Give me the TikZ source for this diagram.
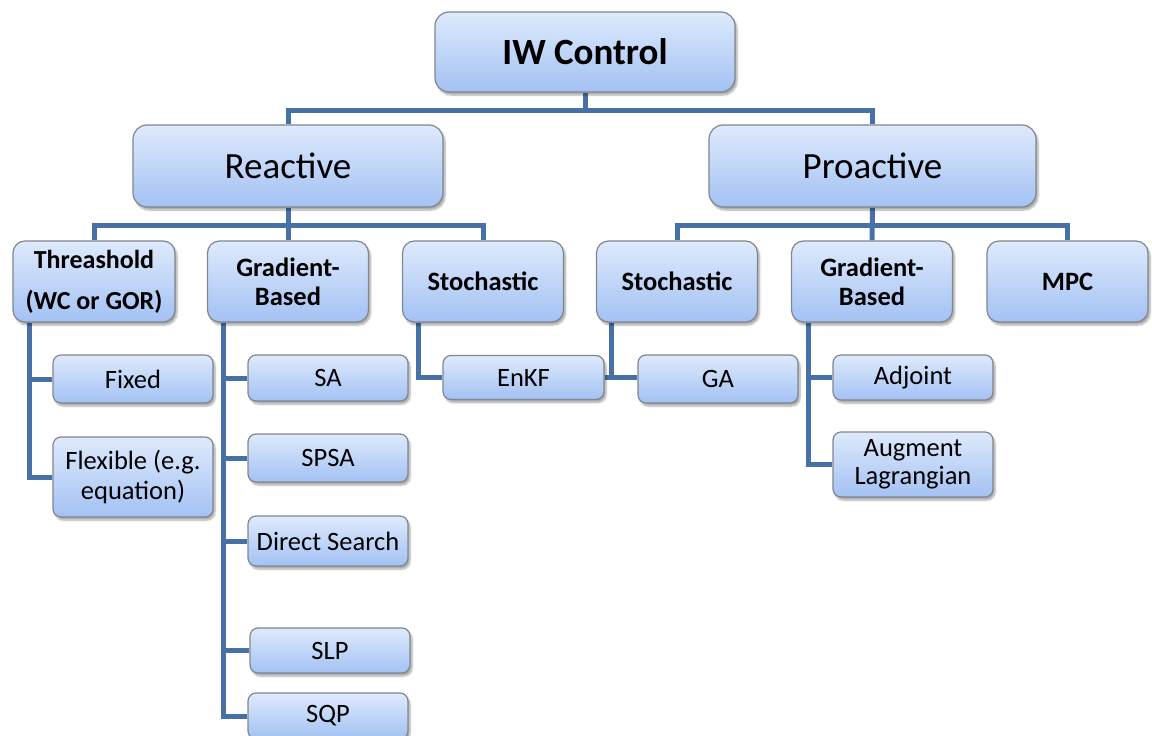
\documentclass[tikz,border=0pt]{standalone}
\usepackage{fontspec}
\setmainfont{Carlito}
\usetikzlibrary{calc,shadows.blur}
\pgfdeclarelayer{bg}
\pgfsetlayers{bg,main}
\definecolor{conncol}{RGB}{70,112,166}
\definecolor{boxtop}{RGB}{222,234,252}
\definecolor{boxbot}{RGB}{163,193,243}
\definecolor{boxedge}{RGB}{128,134,142}
\tikzset{
  box/.style={draw=boxedge, line width=1.2pt, rounded corners=#1, top color=boxtop, bottom color=boxbot,
    align=center, inner sep=2pt,
    blur shadow={shadow xshift=2pt, shadow yshift=-3pt, shadow blur steps=6, shadow opacity=35}},
  lvlA/.style={box=14pt, font=\fontsize{37}{40}\selectfont},
  lvlAb/.style={box=14pt, font=\bfseries\fontsize{37}{40}\selectfont},
  lvlB/.style={box=12pt, minimum width=161pt, minimum height=81pt, font=\bfseries\fontsize{26.5}{29}\selectfont},
  lvlC/.style={box=8pt, minimum width=160pt, font=\fontsize{26.5}{29}\selectfont},
  conn/.style={draw=conncol, line width=5pt, line join=miter}
}
\begin{document}
\begin{tikzpicture}[x=1pt,y=-1pt]
\useasboundingbox (0,0) rectangle (1152,736);

% nodes
\node[lvlAb, minimum width=300pt, minimum height=80pt] (root) at (585,52) {IW Control};
\node[lvlA, minimum width=310pt, minimum height=82pt] (react) at (288,166) {Reactive};
\node[lvlA, minimum width=327pt, minimum height=82pt] (proact) at (872.5,166) {Proactive};

\node[lvlB, minimum width=162pt, font=\bfseries\fontsize{26}{41}\selectfont] (thr) at (94,281.5) {Threashold\\(WC or GOR)};
\node[lvlB] (grad1) at (288,281.5) {Gradient-\\Based};
\node[lvlB] (stoch1) at (483,281.5) {Stochastic};
\node[lvlB] (stoch2) at (677,281.5) {Stochastic};
\node[lvlB] (grad2) at (872,281.5) {Gradient-\\Based};
\node[lvlB] (mpc) at (1067.5,281.5) {MPC};

\node[lvlC, minimum height=48pt] (fixed) at (133,379) {Fixed};
\node[lvlC, minimum height=80pt, font=\fontsize{26.5}{30}\selectfont] (flex) at (133,477) {Flexible (e.g.\\equation)};
\node[lvlC, minimum height=46pt] (sa) at (328,378) {SA};
\node[lvlC, minimum height=48pt] (spsa) at (328,458) {SPSA};
\node[lvlC, minimum height=50pt] (ds) at (328,541) {Direct Search};
\node[lvlC, minimum height=45pt] (slp) at (330,650.5) {SLP};
\node[lvlC, minimum height=46pt] (sqp) at (328,716) {SQP};
\node[lvlC, minimum width=161pt, minimum height=44pt] (enkf) at (523.5,377.5) {EnKF};
\node[lvlC, minimum height=48pt] (ga) at (718,379) {GA};
\node[lvlC, minimum height=45pt] (adj) at (913,377.5) {Adjoint};
\node[lvlC, minimum height=65pt, font=\fontsize{26.5}{28}\selectfont] (aug) at (913,464.5) {Augment\\Lagrangian};

\begin{pgfonlayer}{bg}
% level 1
\draw[conn] (root.south) -- (root.south |- 0,110) -| (react.north);
\draw[conn] (root.south) -- (root.south |- 0,110) -| (proact.north);
% level 2 under Reactive
\draw[conn] (react.south) -- (react.south |- 0,225) -| (thr.north);
\draw[conn] (react.south) -- (grad1.north);
\draw[conn] (react.south) -- (react.south |- 0,225) -| (stoch1.north);
% level 2 under Proactive
\draw[conn] (proact.south) -- (proact.south |- 0,225) -| (stoch2.north);
\draw[conn] (proact.south) -- (grad2.north);
\draw[conn] (proact.south) -- (proact.south |- 0,225) -| (mpc.north);
% level 3
\coordinate (tx) at ($(thr.south west)+(17,0)$);
\draw[conn] (tx) |- (fixed.west);
\draw[conn] (tx) |- (flex.west);
\coordinate (gx) at ($(grad1.south west)+(17,0)$);
\draw[conn] (gx) |- (sa.west);
\draw[conn] (gx) |- (spsa.west);
\draw[conn] (gx) |- (ds.west);
\draw[conn] (gx) |- (slp.west);
\draw[conn] (gx) |- (sqp.west);
\coordinate (sx) at ($(stoch1.south west)+(17,0)$);
\draw[conn] (sx) |- (enkf.west);
\coordinate (s2x) at ($(stoch2.south west)+(16,0)$);
\draw[conn] (s2x) |- (ga.west |- enkf.east);
\draw[conn] (enkf.east) -- (ga.west |- enkf.east);
\coordinate (g2x) at ($(grad2.south west)+(18,0)$);
\draw[conn] (g2x) |- (adj.west);
\draw[conn] (g2x) |- (aug.west);
\end{pgfonlayer}
\end{tikzpicture}
\end{document}
